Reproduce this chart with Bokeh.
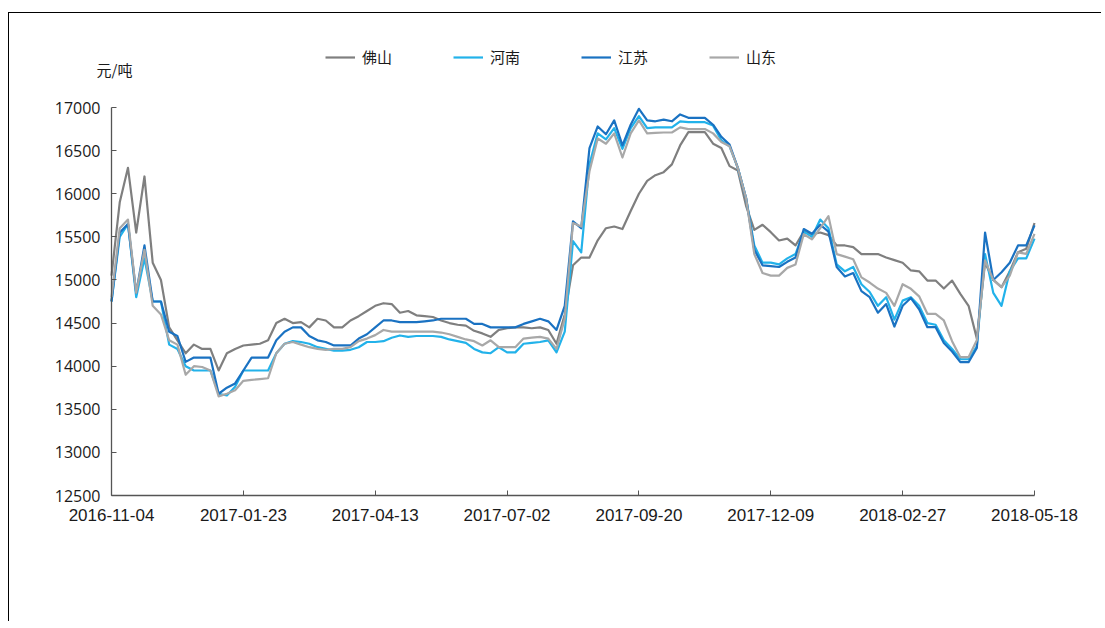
import pandas as pd
from bokeh.plotting import figure
from bokeh.models import (Range1d, FixedTicker, DatetimeTickFormatter, Legend, LegendItem, Label)
from bokeh.embed import file_html
from bokeh.resources import INLINE

# ---------------- data ----------------
start_date = "2016-11-04"
end_date = "2018-05-18"
tick_labels = ["2016-11-04", "2017-01-23", "2017-04-13", "2017-07-02",
               "2017-09-20", "2017-12-09", "2018-02-27", "2018-05-18"]
y_ticks = [12500, 13000, 13500, 14000, 14500, 15000, 15500, 16000, 16500, 17000]
series_names = ["佛山", "河南", "江苏", "山东"]

# sampled every 5 days from 2016-11-04
foshan = [15050, 15900, 16300, 15550, 16200, 15200, 15000, 14450, 14300, 14150,
          14250, 14200, 14200, 13950, 14150, 14200, 14240, 14250, 14260, 14300,
          14500, 14550, 14500, 14510, 14450, 14550, 14530, 14450, 14450, 14530,
          14580, 14640, 14700, 14730, 14720, 14620, 14640, 14590, 14580, 14570,
          14530, 14500, 14480, 14470, 14410, 14380, 14340, 14420, 14440, 14450,
          14450, 14440, 14450, 14420, 14260, 14600, 15170, 15260, 15260, 15460,
          15600, 15620, 15590, 15800, 16000, 16150, 16215, 16250, 16340, 16560,
          16714, 16714, 16714, 16580, 16530, 16320, 16270, 15860, 15580, 15640,
          15554, 15458, 15480, 15400, 15560, 15530, 15550, 15520, 15400, 15400,
          15380, 15300, 15300, 15300, 15260, 15230, 15200, 15110, 15100, 14993,
          14993, 14900, 14993, 14839, 14700, 14320, 15200, 15000, 14916, 15100,
          15322, 15361, 15660]
henan = [14750, 15500, 15650, 14800, 15250, 14750, 14750, 14250, 14200, 14000,
         13950, 13950, 13950, 13680, 13660, 13760, 13950, 13950, 13950, 13950,
         14150, 14260, 14290, 14280, 14260, 14220, 14200, 14180, 14180, 14190,
         14220, 14280, 14280, 14290, 14330, 14356, 14340, 14350, 14350, 14350,
         14340, 14310, 14290, 14270, 14200, 14160, 14150, 14220, 14160, 14160,
         14260, 14270, 14280, 14300, 14160, 14400, 15450, 15320, 16340, 16700,
         16630, 16760, 16520, 16760, 16900, 16760, 16770, 16770, 16770, 16840,
         16830, 16830, 16830, 16790, 16620, 16550, 16300, 15950, 15400, 15200,
         15200, 15180, 15250, 15300, 15560, 15500, 15700, 15600, 15180, 15100,
         15150, 14950, 14860, 14700, 14800, 14540, 14760, 14800, 14700, 14500,
         14480, 14300, 14200, 14080, 14080, 14230, 15300, 14850, 14700, 15100,
         15250, 15250, 15480]
jiangsu = [14750, 15550, 15650, 14850, 15400, 14750, 14750, 14400, 14350, 14050,
           14100, 14100, 14100, 13680, 13750, 13800, 13950, 14100, 14100, 14100,
           14300, 14400, 14450, 14450, 14350, 14300, 14280, 14240, 14240, 14240,
           14320, 14370, 14450, 14530, 14530, 14510, 14510, 14510, 14520, 14530,
           14550, 14550, 14550, 14550, 14490, 14490, 14450, 14450, 14450, 14450,
           14490, 14520, 14550, 14520, 14420, 14700, 15680, 15600, 16530, 16780,
           16690, 16850, 16560, 16800, 16985, 16850, 16840, 16860, 16840, 16920,
           16880, 16880, 16880, 16800, 16660, 16570, 16300, 15950, 15350, 15170,
           15160, 15150, 15210, 15260, 15590, 15535, 15640, 15560, 15150, 15040,
           15080, 14870, 14800, 14620, 14720, 14460, 14700, 14790, 14660, 14452,
           14452, 14270, 14170, 14046, 14046, 14210, 15550, 15000, 15090, 15200,
           15400, 15400, 15632]
shandong = [14800, 15600, 15700, 14850, 15350, 14700, 14600, 14300, 14250, 13900,
            14000, 13990, 13950, 13650, 13680, 13720, 13830, 13840, 13850, 13860,
            14150, 14260, 14280, 14250, 14220, 14200, 14190, 14200, 14200, 14220,
            14290, 14320, 14360, 14420, 14400, 14400, 14400, 14400, 14400, 14400,
            14390, 14370, 14340, 14310, 14290, 14240, 14300, 14220, 14220, 14220,
            14320, 14330, 14340, 14320, 14200, 14550, 15660, 15620, 16260, 16640,
            16580, 16700, 16420, 16700, 16850, 16700, 16705, 16710, 16710, 16770,
            16750, 16750, 16750, 16700, 16600, 16550, 16300, 15950, 15300, 15080,
            15050, 15050, 15140, 15180, 15530, 15470, 15600, 15740, 15300, 15270,
            15240, 15030, 14970, 14900, 14850, 14700, 14950, 14897, 14810, 14607,
            14607, 14530, 14290, 14104, 14104, 14300, 15226, 15000, 14916, 15050,
            15320, 15303, 15535]

colors = ["#7f7f7f", "#22b2ea", "#1a72c2", "#a8a8a8"]

# ---------------- figure ----------------
dates = pd.date_range(start_date, end_date, freq="5D")
t0 = pd.Timestamp(start_date)
t1 = pd.Timestamp(end_date)
t0_ms = float(t0.value // 10**6)

# The frame is larger than the axes span on every side, so that the legend,
# the unit label and all tick labels lie inside it; axes sit at fixed locations.
span_w, span_h = 923, 388          # pixel size of the data span
ex_l, ex_t, ex_r, ex_b = 66, 67, 52, 36
frame_w, frame_h = span_w + ex_l + ex_r, span_h + ex_t + ex_b
y_lo, y_hi = y_ticks[0], y_ticks[-1]
y_per_px = (y_hi - y_lo) / span_h
days_total = (t1 - t0).days
day_per_px = days_total / span_w
x_start = t0 - pd.Timedelta(days=day_per_px * ex_l)
x_end = t1 + pd.Timedelta(days=day_per_px * ex_r)
y_start = y_lo - y_per_px * ex_b
y_end = y_hi + y_per_px * ex_t

p = figure(output_backend="svg", toolbar_location=None,
           x_axis_type="datetime",
           frame_width=frame_w, frame_height=frame_h,
           min_border_left=36, min_border_top=27,
           min_border_bottom=90, min_border_right=15,
           x_range=Range1d(x_start, x_end), y_range=Range1d(y_start, y_end))
p.styles = {"border-top": "1px solid #000000", "border-left": "1px solid #000000",
            "margin-top": "12px", "margin-left": "8px"}
p.outline_line_color = None
p.grid.visible = False
p.background_fill_color = "white"
p.border_fill_color = "white"

tick_ms = [pd.Timestamp(t).value // 10**6 for t in tick_labels]
p.xaxis.ticker = FixedTicker(ticks=tick_ms)
fmt = "%Y-%m-%d"
p.xaxis.formatter = DatetimeTickFormatter(milliseconds=fmt, seconds=fmt, minsec=fmt,
                                          minutes=fmt, hourmin=fmt, hours=fmt,
                                          days=fmt, months=fmt, years=fmt)
p.xaxis.bounds = (t0, t1)
p.xaxis.fixed_location = float(y_lo)
p.yaxis.ticker = FixedTicker(ticks=y_ticks)
p.yaxis.bounds = (y_lo, y_hi)
p.yaxis.fixed_location = t0_ms

for ax in (p.xaxis, p.yaxis):
    ax.axis_line_color = "#555555"
    ax.axis_line_width = 1.3
    ax.major_tick_line_color = "#555555"
    ax.major_tick_in = 5
    ax.major_tick_out = 0
    ax.minor_tick_line_color = None
    ax.major_label_text_color = "#1a1a1a"

p.yaxis.major_label_text_font = "Open Sans"
p.yaxis.major_label_text_font_size = "16px"
p.yaxis.major_label_standoff = 11
p.xaxis.major_label_text_font = "Liberation Sans"
p.xaxis.major_label_text_font_size = "17px"
p.xaxis.major_label_standoff = 13

renderers = []
for name, vals, c in zip(series_names, [foshan, henan, jiangsu, shandong], colors):
    r = p.line(dates, vals, line_color=c, line_width=2.2, line_join="round")
    renderers.append(r)

legend = Legend(items=[LegendItem(label=n, renderers=[r]) for n, r in zip(series_names, renderers)],
                orientation="horizontal", location=(214 + ex_l, 428 + ex_b),
                glyph_width=30, glyph_height=16, label_standoff=7, spacing=61,
                padding=0, margin=0, border_line_alpha=0, background_fill_alpha=0,
                label_text_font="Noto Sans CJK SC", label_text_font_size="15px",
                label_text_color="#1a1a1a")
p.add_layout(legend, "center")

unit = Label(x=t0, y=17440, x_offset=-15, text="元/吨",
             text_font="Noto Sans CJK SC", text_font_size="15px",
             text_color="#1a1a1a", text_baseline="middle")
p.add_layout(unit)

open("out.html", "w").write(file_html(p, INLINE))
